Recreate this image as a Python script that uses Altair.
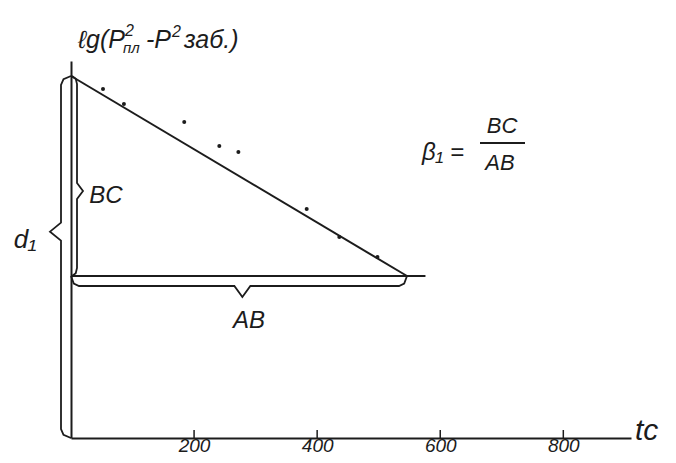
import altair as alt
import pandas as pd

# ---- data ----
t_points = [52, 86, 184, 241, 272, 383, 436, 498]
lg_points = [3.49, 3.34, 3.16, 2.92, 2.86, 2.29, 2.01, 1.81]
line_t = [0, 546]
line_lg = [3.62, 1.62]
base_t = [0, 576]          # horizontal line (AB)
base_lg = 1.62
tick_values = [200, 400, 600, 800]
x_max = 910
y_max = 3.77

# ---- layout ----
W, H = 560, 377
tpp = x_max / W   # t units per pixel
ypp = y_max / H   # lg units per pixel
INK = "#1c1c1c"
FONT = "Liberation Sans Narrow, Liberation Sans, sans-serif"

xs = alt.Scale(domain=[0, x_max], nice=False, zero=False)
ys = alt.Scale(domain=[0, y_max], nice=False, zero=False)
xax = alt.Axis(values=tick_values, ticks=False, grid=False, domainColor=INK,
               domainWidth=2, labelFont=FONT, labelFontStyle="italic",
               labelFontSize=19, labelColor=INK, labelPadding=-2,
               title=None, labelFlush=False)
yax = alt.Axis(labels=False, ticks=False, grid=False, domainColor=INK,
               domainWidth=2, title=None)
X = alt.X("t:Q", scale=xs, axis=xax)
Y = alt.Y("lg:Q", scale=ys, axis=yax)

# main lines
lines = pd.DataFrame({
    "name": ["fit", "fit", "base", "base"],
    "t": [line_t[0], line_t[1], base_t[0], base_t[1]],
    "lg": [line_lg[0], line_lg[1], base_lg, base_lg],
})


def brace(name, s0, s1, tip_frac, w, tw, hook, vertical, base):
    sm = s0 + (s1 - s0) * tip_frac
    along = [s0, s0 + hook * 0.35, s0 + hook, sm - hook, sm, sm + hook,
             s1 - hook, s1 - hook * 0.35, s1]
    cross = [0, w * 0.75, w, w, tw, w, w, w * 0.75, 0]
    rows = []
    for i, (a, c) in enumerate(zip(along, cross)):
        if vertical:
            rows.append({"name": name, "i": i, "t": base + c, "lg": a})
        else:
            rows.append({"name": name, "i": i, "t": a, "lg": base + c})
    return rows


brace_rows = []
brace_rows += brace("BC", base_lg, line_lg[0], 0.425, 5 * tpp, 11 * tpp, 8 * ypp, True, 1 * tpp)
brace_rows += brace("d1", 0, line_lg[0], 0.57, -10 * tpp, -21 * tpp, 9 * ypp, True, 0)
brace_rows += brace("AB", 0, line_t[1], 0.51, -10 * ypp, -21 * ypp, 8 * tpp, False, base_lg)
braces = pd.DataFrame(brace_rows)

pts = pd.DataFrame({"t": t_points, "lg": lg_points})
ticks = pd.DataFrame({"t": tick_values, "lg": [0] * 4, "lg2": [8 * ypp] * 4})

# annotations (pixel positions relative to the plot origin -> data units)
def ann(px, py, text, fs):
    return {"t": px * tpp, "lg": (H - py) * ypp, "text": text, "fs": fs}

left_txt = pd.DataFrame([
    ann(7, -13, "ℓg(P", 25),
    ann(54, -25, "2", 16),
    ann(52, -8, "пл", 15),
    ann(75, -13, "-P", 25),
    ann(101, -24, "2", 16),
    ann(113, -13, "заб.)", 25),
    ann(564, 379, "tc", 30),
])
mid_txt = pd.DataFrame([
    ann(35, 142, "BC", 24),
    ann(178, 267, "AB", 24),
    ann(-46, 187, "d₁", 26),
    ann(372, 99, "β₁ =", 24),
    ann(431, 72, "BC", 22),
    ann(429, 109, "AB", 22),
])
bar = pd.DataFrame({"t": [409 * tpp], "t2": [454 * tpp], "lg": [(H - 82) * ypp]})

line_layer = alt.Chart(lines).mark_line(color=INK, strokeWidth=2).encode(
    x=X, y=Y, detail="name:N")
brace_layer = alt.Chart(braces).mark_line(color=INK, strokeWidth=1.8).encode(
    x=X, y=Y, detail="name:N", order="i:Q")
pt_layer = alt.Chart(pts).mark_circle(color=INK, size=16, opacity=1).encode(x=X, y=Y)
tick_layer = alt.Chart(ticks).mark_rule(color=INK, strokeWidth=1.5).encode(
    x=X, y=Y, y2="lg2:Q")
txt_l = alt.Chart(left_txt).mark_text(color=INK, font=FONT, fontStyle="italic",
                                      align="left", baseline="alphabetic").encode(
    x=X, y=Y, text="text:N", size=alt.Size("fs:Q", scale=None, legend=None))
txt_m = alt.Chart(mid_txt).mark_text(color=INK, font=FONT, fontStyle="italic",
                                     align="center", baseline="alphabetic").encode(
    x=X, y=Y, text="text:N", size=alt.Size("fs:Q", scale=None, legend=None))
bar_layer = alt.Chart(bar).mark_rule(color=INK, strokeWidth=2).encode(
    x=X, x2="t2:Q", y=Y)

chart = alt.layer(line_layer, brace_layer, pt_layer, tick_layer, txt_l, txt_m,
                  bar_layer).properties(
    width=W, height=H,
    autosize=alt.AutoSizeParams(type="none"),
    padding={"left": 63, "top": 53, "right": 37, "bottom": 17},
    background="white",
).configure_view(stroke=None)

chart.save("out.html", embed_options={"renderer": "svg", "actions": False})
